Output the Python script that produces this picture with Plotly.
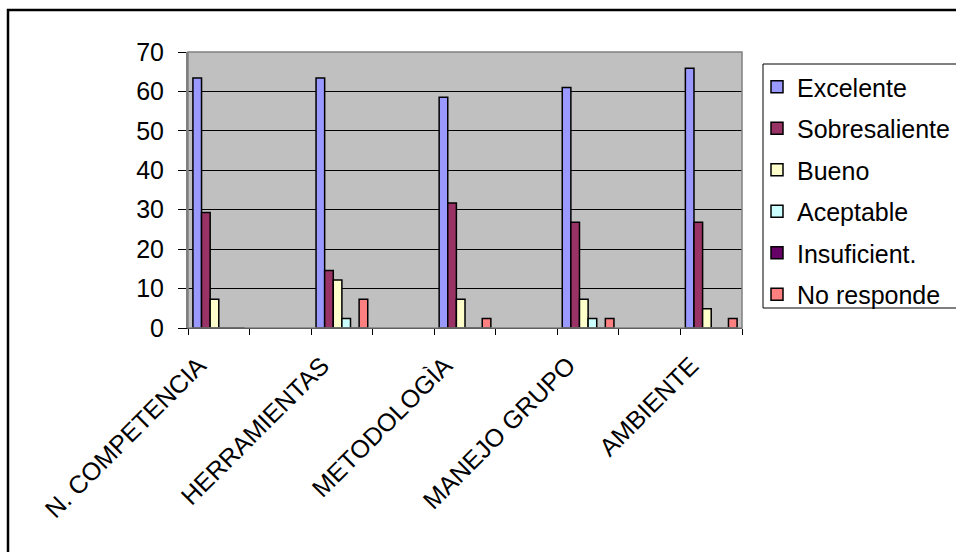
import plotly.graph_objects as go

# ---- data (percent of 41 respondents) ----
categories = ["N. COMPETENCIA", " ", "HERRAMIENTAS", "  ", "METODOLOGÌA", "   ",
              "MANEJO GRUPO", "    ", "AMBIENTE"]
series_names = ["Excelente", "Sobresaliente", "Bueno", "Aceptable", "Insuficient.", "No responde"]
excelente     = [63.4, None, 63.4, None, 58.5, None, 61.0, None, 65.9]
sobresaliente = [29.3, None, 14.6, None, 31.7, None, 26.8, None, 26.8]
bueno         = [7.3,  None, 12.2, None, 7.3,  None, 7.3,  None, 4.9]
aceptable     = [0,    None, 2.4,  None, 0,    None, 2.4,  None, 0]
insuficiente  = [0,    None, 0,    None, 0,    None, 0,    None, 0]
no_responde   = [0,    None, 7.3,  None, 2.4,  None, 2.4,  None, 2.4]
series_values = [excelente, sobresaliente, bueno, aceptable, insuficiente, no_responde]
colors = ["#9999FF", "#993366", "#FFFFCC", "#CCFFFF", "#660066", "#FF8080"]

W, H = 956, 552
L, R, T, B = 188, 214, 52, 224
PW, PH = W - L - R, H - T - B

def px(x):
    return (x - L) / PW

def py(y):
    return (H - B - y) / PH

FONT = "Arial, Liberation Sans, sans-serif"
FS = 25

fig = go.Figure()
for name, vals, col in zip(series_names, series_values, colors):
    fig.add_trace(go.Bar(
        x=categories, y=vals, name=name, legendgroup=name,
        marker=dict(color=col, line=dict(color="black", width=1.5)),
    ))

fig.update_layout(
    width=W, height=H,
    margin=dict(l=L, r=R, t=T, b=B, pad=0, autoexpand=False),
    paper_bgcolor="white", plot_bgcolor="#C0C0C0",
    barmode="group", bargap=0.16, bargroupgap=0,
    font=dict(family=FONT, size=FS, color="black"),
    showlegend=True,
    legend=dict(
        x=px(757), y=py(64), xanchor="left", yanchor="top",
        bgcolor="rgba(0,0,0,0)", borderwidth=0,
        font=dict(family=FONT, size=FS, color="black"),
        tracegroupgap=6, itemwidth=30,
    ),
    xaxis=dict(
        type="category", tickson="boundaries", ticks="outside", ticklen=6,
        tickcolor="black", tickangle=-45, showgrid=False,
        ticklabelshift=-20, ticklabelstandoff=12,
        showline=True, linecolor="black", linewidth=1,
        tickfont=dict(family=FONT, size=FS, color="black"),
    ),
    yaxis=dict(
        range=[0, 70], dtick=10, ticks="outside", ticklen=8, tickcolor="black",
        ticklabelstandoff=9,
        showgrid=True, gridcolor="black", gridwidth=1, zeroline=False,
        showline=True, linecolor="#808080", linewidth=2,
        tickfont=dict(family=FONT, size=FS, color="black"),
    ),
    shapes=[
        # plot area border
        dict(type="rect", xref="paper", yref="paper", x0=0, x1=1, y0=0, y1=1,
             line=dict(color="#808080", width=1.5), layer="above"),
        # legend box
        dict(type="rect", xref="paper", yref="paper", x0=px(763), x1=px(990),
             y0=py(308), y1=py(64), line=dict(color="black", width=1)),
        # chart outer frame
        dict(type="rect", xref="paper", yref="paper", x0=px(8), x1=px(1000),
             y0=py(600), y1=py(10), line=dict(color="black", width=2.5)),
    ],
)

fig.write_html("out.html")
